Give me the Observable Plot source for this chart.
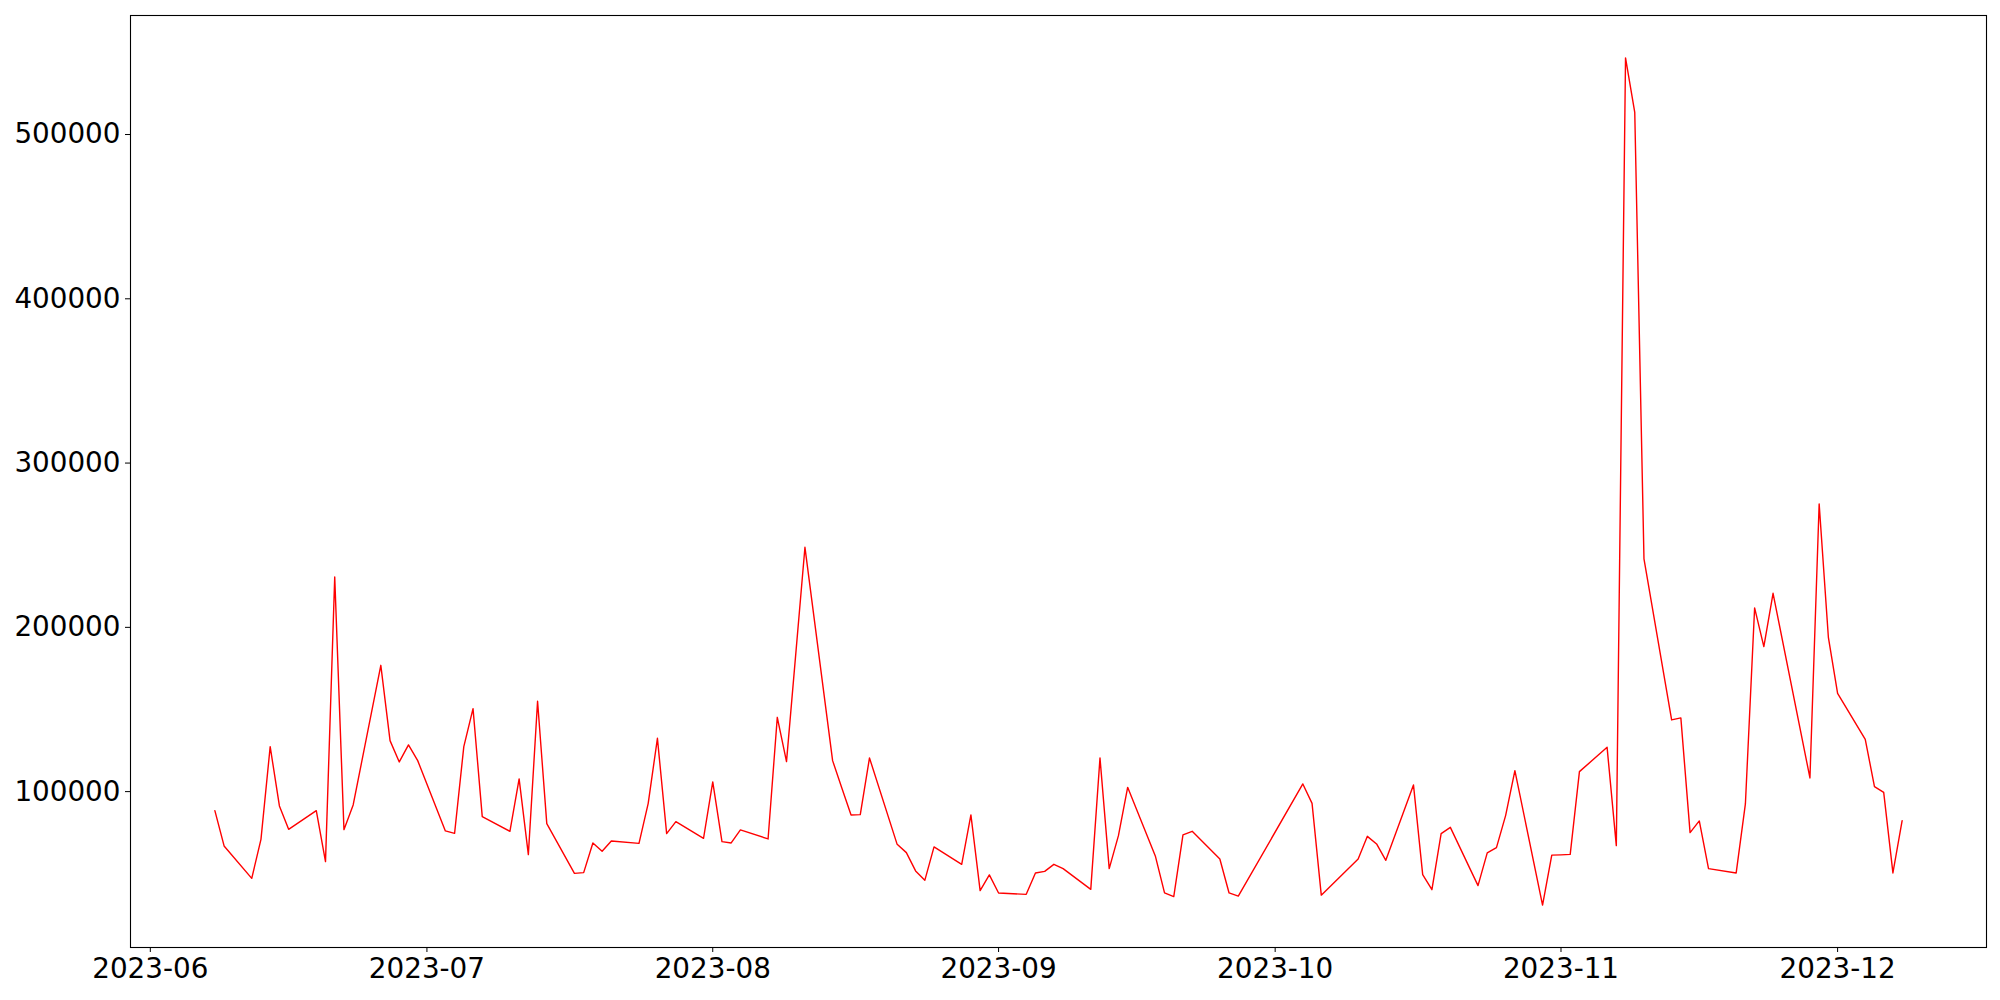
<!DOCTYPE html>
<html><head><meta charset="utf-8">
<script src="https://cdn.jsdelivr.net/npm/d3@7"></script>
<script src="https://cdn.jsdelivr.net/npm/@observablehq/plot@0.6"></script>
<style>html,body{margin:0;padding:0;background:#fff;}</style>
</head><body><div id="chart"></div>
<script>
const dates = [
"2023-06-08","2023-06-09","2023-06-12","2023-06-13","2023-06-14","2023-06-15","2023-06-16",
"2023-06-19","2023-06-20","2023-06-21","2023-06-22","2023-06-23",
"2023-06-26","2023-06-27","2023-06-28","2023-06-29","2023-06-30",
"2023-07-03","2023-07-04","2023-07-05","2023-07-06","2023-07-07",
"2023-07-10","2023-07-11","2023-07-12","2023-07-13","2023-07-14",
"2023-07-17","2023-07-18","2023-07-19","2023-07-20","2023-07-21",
"2023-07-24","2023-07-25","2023-07-26","2023-07-27","2023-07-28",
"2023-07-31","2023-08-01","2023-08-02","2023-08-03","2023-08-04",
"2023-08-07","2023-08-08","2023-08-09","2023-08-11",
"2023-08-14","2023-08-15","2023-08-16","2023-08-17","2023-08-18",
"2023-08-21","2023-08-22","2023-08-23","2023-08-24","2023-08-25",
"2023-08-28","2023-08-29","2023-08-30","2023-08-31","2023-09-01",
"2023-09-04","2023-09-05","2023-09-06","2023-09-07","2023-09-08",
"2023-09-11","2023-09-12","2023-09-13","2023-09-14","2023-09-15",
"2023-09-18","2023-09-19","2023-09-20","2023-09-21","2023-09-22",
"2023-09-25","2023-09-26","2023-09-27",
"2023-10-04","2023-10-05","2023-10-06",
"2023-10-10","2023-10-11","2023-10-12","2023-10-13",
"2023-10-16","2023-10-17","2023-10-18","2023-10-19","2023-10-20",
"2023-10-23","2023-10-24","2023-10-25","2023-10-26","2023-10-27",
"2023-10-30","2023-10-31","2023-11-01","2023-11-02","2023-11-03",
"2023-11-06","2023-11-07","2023-11-08","2023-11-09","2023-11-10",
"2023-11-13","2023-11-14","2023-11-15","2023-11-16","2023-11-17",
"2023-11-20","2023-11-21","2023-11-22","2023-11-23","2023-11-24",
"2023-11-28","2023-11-29","2023-11-30","2023-12-01",
"2023-12-04","2023-12-05","2023-12-06","2023-12-07","2023-12-08"
];
const values = [
88430,66940,47210,70960,127390,91290,77040,
88430,57380,230700,76860,91900,
176890,131040,118080,128430,118870,
76070,74610,127390,150530,84780,
75830,107730,61640,154970,80510,
50260,50680,68760,63650,69980,
68520,92870,132450,74430,81730,
71570,105900,69560,68760,76680,
71200,145230,118260,248730,
118870,102250,85810,85990,120510,
67910,62860,51720,45990,66330,
55740,85810,39720,49280,38320,
37470,50500,51470,55740,53120,
40520,120510,53120,73210,102610,
60850,38320,36070,73630,75830,
59020,38320,36380,
104680,92870,36980,
59020,72780,68150,58170,
104070,49470,40330,74430,78260,
42770,62680,65900,85570,112780,
30900,61340,61520,61820,112170,
126970,67120,546670,513550,241660,
143650,144860,75030,82160,53120,
50500,92510,211830,188270,220720,
108340,275150,193930,159840,
131840,103040,99570,50500,82340
];
const monthTicks = ["2023-06-01","2023-07-01","2023-08-01","2023-09-01","2023-10-01","2023-11-01","2023-12-01"];
const yTicks = [100000,200000,300000,400000,500000];

const data = dates.map((d,i)=>({date:new Date(d+"T00:00:00Z"), value:values[i]}));
const [x0,x1] = d3.extent(data, d=>d.date);
const xpad = (x1-x0)*0.05;
const [y0,y1] = d3.extent(values);
const ypad = (y1-y0)*0.05;

const chart = Plot.plot({
  width:2000, height:1000,
  marginLeft:130, marginRight:14, marginTop:15, marginBottom:53,
  style:{fontFamily:"'DejaVu Sans', sans-serif", fontSize:"27.8px", color:"#000", background:"#fff", overflow:"visible"},
  x:{type:"utc", domain:[new Date(+x0-xpad), new Date(+x1+xpad)],
     ticks: monthTicks.map(s=>new Date(s+"T00:00:00Z")),
     tickFormat: d3.utcFormat("%Y-%m"), tickSize:5, tickPadding:6, label:null},
  y:{domain:[y0-ypad, y1+ypad], ticks:yTicks, tickFormat:d=>String(d), tickSize:5, tickPadding:5, label:null},
  marks:[
    Plot.frame({stroke:"#000", strokeWidth:1.1}),
    Plot.line(data,{x:"date", y:"value", stroke:"red", strokeWidth:1.4})
  ]
});
document.getElementById("chart").appendChild(chart);
</script>
</body></html>
